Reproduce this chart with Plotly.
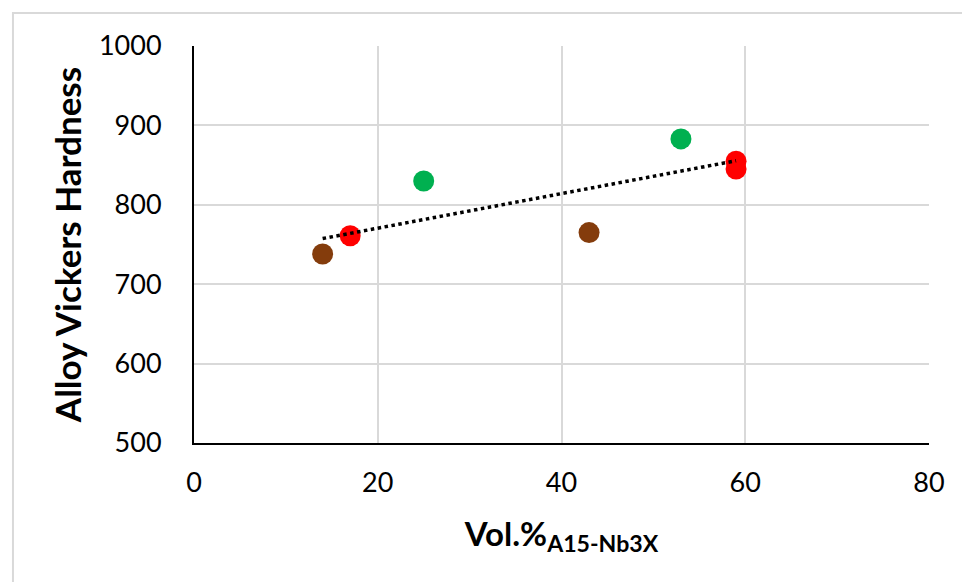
import numpy as np
import plotly.graph_objects as go

# Data
brown_x = [14, 43]
brown_y = [738, 765]
red_x = [17, 59, 59]
red_y = [761, 855, 845]
green_x = [25, 53]
green_y = [830, 883]

x_ticks = [0, 20, 40, 60, 80]
y_ticks = [500, 600, 700, 800, 900, 1000]

all_x = np.array(brown_x + red_x + green_x, dtype=float)
all_y = np.array(brown_y + red_y + green_y, dtype=float)
slope, intercept = np.polyfit(all_x, all_y, 1)
tx = np.array([all_x.min(), all_x.max()])
ty = slope * tx + intercept

FONT = "Lato"

fig = go.Figure()
for xs, ys, c in [(brown_x, brown_y, "#843C0C"), (red_x, red_y, "#FF0000"),
                  (green_x, green_y, "#00B050")]:
    fig.add_trace(go.Scatter(x=xs, y=ys, mode="markers",
                             marker=dict(color=c, size=21, line=dict(width=0)),
                             showlegend=False))
fig.add_trace(go.Scatter(x=tx, y=ty, mode="lines",
                         line=dict(color="black", width=3.5, dash="dot"),
                         showlegend=False, hoverinfo="skip"))

fig.update_layout(
    width=970, height=582,
    margin=dict(l=186, r=49, t=38, b=147),
    paper_bgcolor="white", plot_bgcolor="white",
    font=dict(family=FONT, color="black", size=27),
    xaxis=dict(range=[0, 80], tickvals=x_ticks, showgrid=True,
               gridcolor="#D9D9D9", gridwidth=2, zeroline=False,
               showline=True, linecolor="black", linewidth=2,
               ticks="", ticklabelstandoff=15,
               tickfont=dict(size=27, family=FONT),
               title=dict(text="<b>Vol.%<sub>A15-Nb3X</sub></b>",
                          font=dict(size=33, family=FONT), standoff=25)),
    yaxis=dict(range=[500, 1000], tickvals=y_ticks, showgrid=True,
               gridcolor="#D9D9D9", gridwidth=2, zeroline=False,
               showline=True, linecolor="black", linewidth=2,
               ticks="", ticklabelstandoff=25,
               tickfont=dict(size=27, family=FONT),
               title=dict(text="<b>Alloy Vickers Hardness</b>",
                          font=dict(size=35, family=FONT, weight=900), standoff=7)),
    shapes=[dict(type="rect", xref="paper", yref="paper",
                 x0=-0.2463, x1=1.08, y0=-0.42, y1=1.0831,
                 line=dict(color="#D9D9D9", width=2), fillcolor="rgba(0,0,0,0)",
                 layer="below")],
)

fig.write_html("out.html")
